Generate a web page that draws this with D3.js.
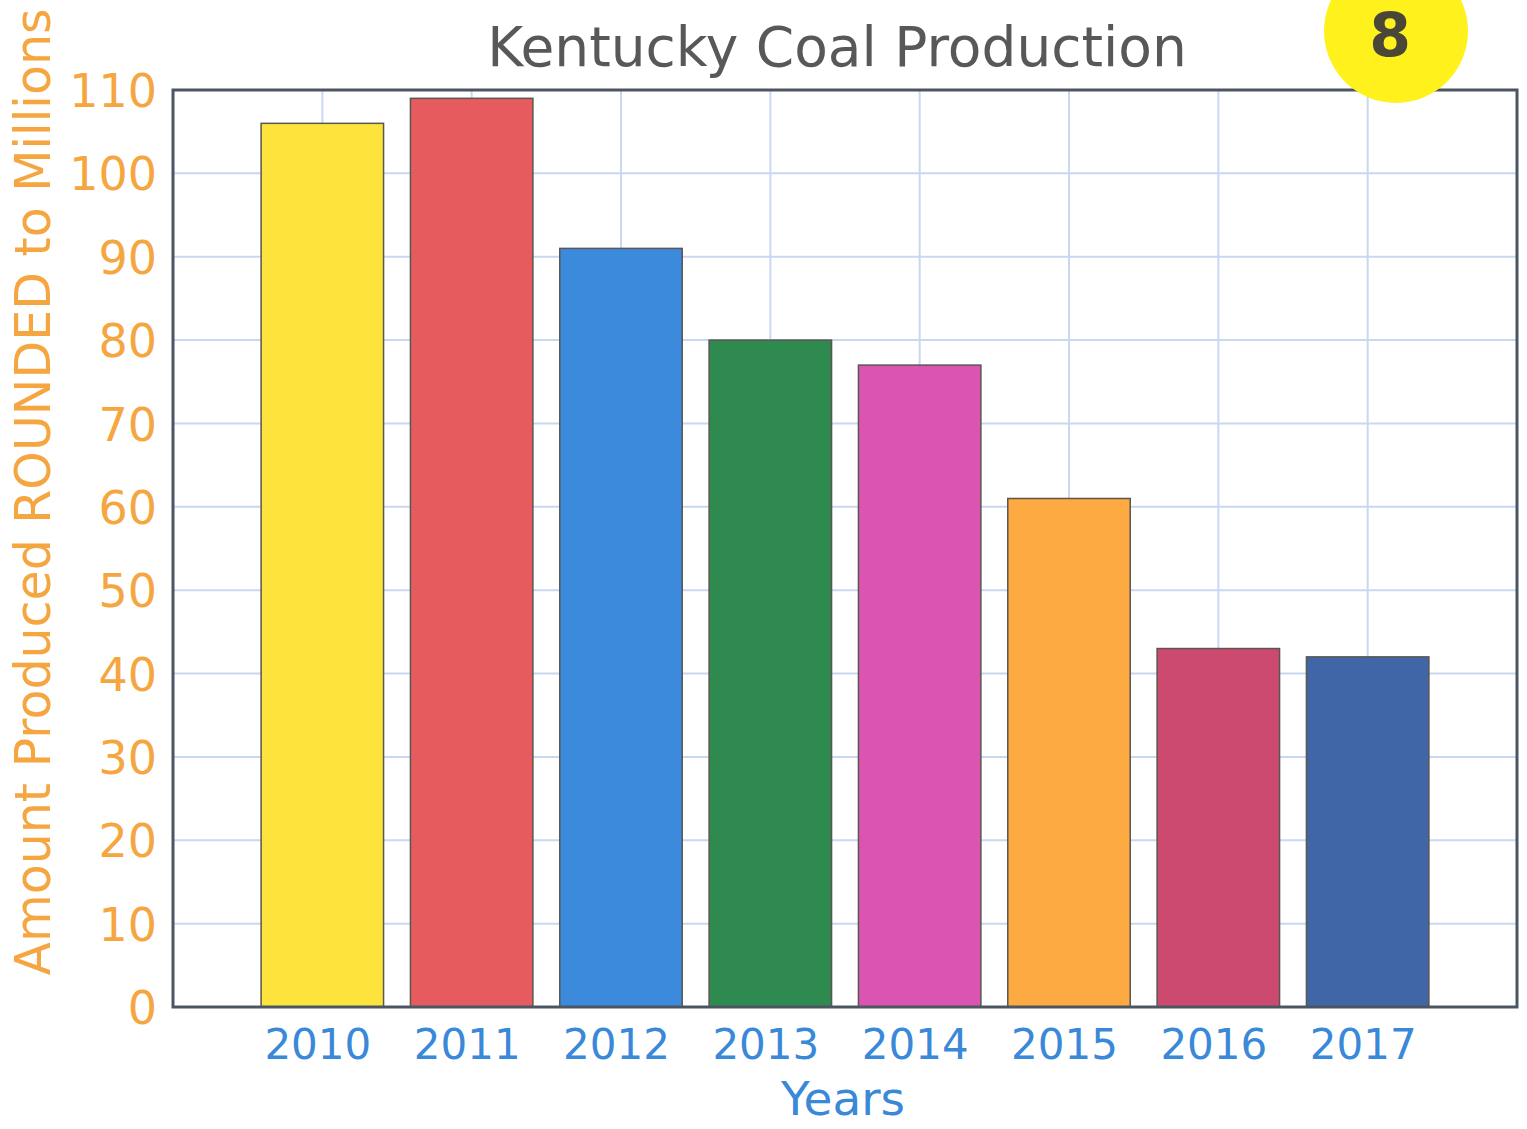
<!DOCTYPE html>
<html>
<head>
<meta charset="utf-8">
<script src="https://cdn.jsdelivr.net/npm/d3@7"></script>
<style>
  html, body { margin: 0; padding: 0; background: #ffffff; }
  svg { display: block; }
  text { font-family: "DejaVu Sans", Verdana, sans-serif; }
</style>
</head>
<body>
<svg id="chart" width="1527" height="1129"></svg>
<script>
// ---- data ----
const years = [2010, 2011, 2012, 2013, 2014, 2015, 2016, 2017];
const production = [106, 109, 91, 80, 77, 61, 43, 42];
const barColors = ["#fde33b", "#e65c5e", "#3b8adc", "#2f8a50", "#dc54b2", "#fdaa42", "#cc4a70", "#4066a8"];
const yTicks = [0, 10, 20, 30, 40, 50, 60, 70, 80, 90, 100, 110];
const title = "Kentucky Coal Production";
const xTitle = "Years";
const yTitle = "Amount Produced ROUNDED to Millions";
const badge = "8";

// ---- layout ----
const W = 1527, H = 1129;
const plot = { left: 173, right: 1517, top: 90, bottom: 1007 };

const svg = d3.select("#chart");
svg.append("rect").attr("width", W).attr("height", H).attr("fill", "#ffffff");

const x = d3.scaleLinear().domain([years[0] - 1, years[years.length - 1] + 1]).range([plot.left, plot.right]);
const y = d3.scaleLinear().domain([0, 110]).range([plot.bottom, plot.top]);
const step = x(years[1]) - x(years[0]);
const barW = step * 0.82;

// plot background
svg.append("rect")
  .attr("x", plot.left).attr("y", plot.top)
  .attr("width", plot.right - plot.left).attr("height", plot.bottom - plot.top)
  .attr("fill", "#ffffff");

// grid lines
const grid = svg.append("g").attr("class", "grid");
grid.selectAll("line.h").data(yTicks.filter(d => d > 0 && d < 110)).enter().append("line")
  .attr("class", "h")
  .attr("x1", plot.left).attr("x2", plot.right)
  .attr("y1", d => y(d)).attr("y2", d => y(d))
  .attr("stroke", "#c9d8f1").attr("stroke-width", 2);
grid.selectAll("line.v").data(years).enter().append("line")
  .attr("class", "v")
  .attr("x1", d => x(d)).attr("x2", d => x(d))
  .attr("y1", plot.top).attr("y2", plot.bottom)
  .attr("stroke", "#c9d8f1").attr("stroke-width", 2);

// bars
svg.append("g").selectAll("rect").data(years).enter().append("rect")
  .attr("x", d => x(d) - barW / 2)
  .attr("width", barW)
  .attr("y", (d, i) => y(production[i]))
  .attr("height", (d, i) => y(0) - y(production[i]))
  .attr("fill", (d, i) => barColors[i])
  .attr("stroke", "#5a5650").attr("stroke-width", 1.5);

// plot border
svg.append("rect")
  .attr("x", plot.left).attr("y", plot.top)
  .attr("width", plot.right - plot.left).attr("height", plot.bottom - plot.top)
  .attr("fill", "none").attr("stroke", "#4c5663").attr("stroke-width", 3);

// y axis
const yAxis = d3.axisLeft(y).tickValues(yTicks).tickSize(0).tickPadding(16);
const yg = svg.append("g").attr("transform", `translate(${plot.left},0)`).call(yAxis);
yg.select(".domain").remove();
yg.selectAll("text")
  .attr("fill", "#f5a640")
  .style("font-size", "46px")
  .attr("dy", "0.36em");

// x axis
const xAxis = d3.axisBottom(x).tickValues(years).tickFormat(d3.format("d")).tickSize(0).tickPadding(22);
const xg = svg.append("g").attr("transform", `translate(-5,${plot.bottom})`).call(xAxis);
xg.select(".domain").remove();
xg.selectAll("text")
  .attr("fill", "#3a88d8")
  .style("font-size", "42px")
  .attr("dy", "0.71em");

// titles
svg.append("text")
  .attr("x", 837).attr("y", 66)
  .attr("text-anchor", "middle")
  .attr("fill", "#585858")
  .style("font-size", "55px")
  .text(title);

svg.append("text")
  .attr("x", 843).attr("y", 1115)
  .attr("text-anchor", "middle")
  .attr("fill", "#3a88d8")
  .style("font-size", "47px")
  .text(xTitle);

svg.append("text")
  .attr("transform", "translate(50,492) rotate(-90)")
  .attr("text-anchor", "middle")
  .attr("fill", "#f5a640")
  .style("font-size", "49px")
  .text(yTitle);

// yellow badge
svg.append("circle")
  .attr("cx", 1396).attr("cy", 31).attr("r", 72)
  .attr("fill", "#fff21c");
svg.append("text")
  .attr("x", 1390).attr("y", 56)
  .attr("text-anchor", "middle")
  .attr("fill", "#4a4638")
  .style("font-size", "60px")
  .style("font-weight", "bold")
  .text(badge);
</script>
</body>
</html>
